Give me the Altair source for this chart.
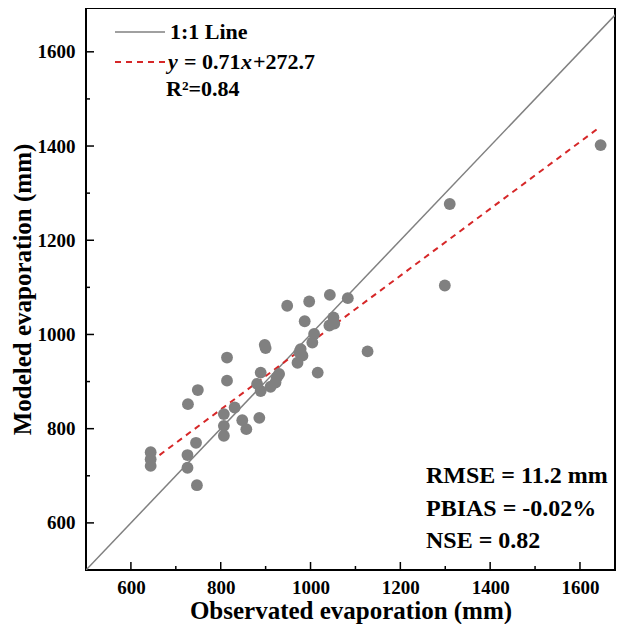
import altair as alt
import pandas as pd

# ---- data ----
observed = [644, 644, 644,
            727, 749, 745, 726, 726, 747,
            814, 814, 831, 807, 807, 807, 848, 857,
            898, 900,
            889, 881, 889, 886,
            911, 925, 922, 930,
            948, 997, 1043, 1083,
            987, 1051, 1042, 1053,
            1008, 1004, 978, 975, 982, 971, 1016,
            1127, 1299, 1310, 1646]
modeled = [750, 735, 721,
           852, 882, 770, 744, 717, 680,
           951, 902, 845, 831, 806, 785, 818, 799,
           978, 971,
           919, 895, 880, 823,
           889, 909, 898, 916,
           1061, 1070, 1084, 1077,
           1028, 1036, 1019, 1023,
           1001, 983, 969, 962, 955, 940, 919,
           964, 1104, 1277, 1402]

major_ticks = [600, 800, 1000, 1200, 1400, 1600]
minor_ticks = [700, 900, 1100, 1300, 1500]
one_to_one = [500, 1700]
fit_slope = 0.71
fit_intercept = 272.7
fit_range = [644, 1640]

legend_labels = ["1:1 Line", "R\u00b2=0.84"]
eq_parts = ["y", "= 0.71", "x", "+272.7"]
stats_text = ["RMSE = 11.2 mm", "PBIAS = -0.02%", "NSE = 0.82"]

W, H = 529, 562
FONT = "Liberation Serif"
GRAY = "#808080"
RED = "#d62728"

xs = alt.Scale(domain=[500, 1678], nice=False, zero=False)
ys = alt.Scale(domain=[500, 1693], nice=False, zero=False)

pts_df = pd.DataFrame({"obs": observed, "mod": modeled})

points = alt.Chart(pts_df).mark_circle(size=140, color=GRAY, opacity=1).encode(
    x=alt.X("obs:Q", scale=xs,
            axis=alt.Axis(title="Observated evaporation (mm)", values=major_ticks, format="d",
                          labelPadding=8, titlePadding=1)),
    y=alt.Y("mod:Q", scale=ys,
            axis=alt.Axis(title="Modeled evaporation (mm)", values=major_ticks, format="d",
                          labelPadding=11, titlePadding=2)),
)

line11 = alt.Chart(pd.DataFrame({"v": one_to_one})).mark_line(
    color=GRAY, strokeWidth=1.5, clip=True
).encode(x=alt.X("v:Q", scale=xs), y=alt.Y("v:Q", scale=ys))

fit = alt.Chart(pd.DataFrame({"fx": fit_range})).transform_calculate(
    fy=f"{fit_slope}*datum.fx+{fit_intercept}"
).mark_line(color=RED, strokeWidth=2, strokeDash=[6, 5], clip=True).encode(
    x=alt.X("fx:Q", scale=xs), y=alt.Y("fy:Q", scale=ys)
)

# inward ticks
xmaj = alt.Chart(pd.DataFrame({"t": major_ticks})).mark_rule(color="black", strokeWidth=1.5).encode(
    x=alt.X("t:Q", scale=xs), y=alt.value(H), y2=alt.value(H - 8))
xmin = alt.Chart(pd.DataFrame({"t": minor_ticks})).mark_rule(color="black", strokeWidth=1.5).encode(
    x=alt.X("t:Q", scale=xs), y=alt.value(H), y2=alt.value(H - 4))
ymaj = alt.Chart(pd.DataFrame({"t": major_ticks})).mark_rule(color="black", strokeWidth=1.5).encode(
    y=alt.Y("t:Q", scale=ys), x=alt.value(0), x2=alt.value(8))
ymin = alt.Chart(pd.DataFrame({"t": minor_ticks})).mark_rule(color="black", strokeWidth=1.5).encode(
    y=alt.Y("t:Q", scale=ys), x=alt.value(0), x2=alt.value(4))

# legend
one = pd.DataFrame({"k": [0]})
leg_gray = alt.Chart(one).mark_rule(color=GRAY, strokeWidth=1.5).encode(
    x=alt.value(29), x2=alt.value(79), y=alt.value(24))
leg_red = alt.Chart(one).mark_rule(color=RED, strokeWidth=2, strokeDash=[6, 5]).encode(
    x=alt.value(29), x2=alt.value(79), y=alt.value(54))

def txt(s, x, y, size=22, style="normal"):
    return alt.Chart(pd.DataFrame({"s": [s]})).mark_text(
        font=FONT, fontSize=size, fontWeight="bold", fontStyle=style,
        align="left", baseline="middle", color="black"
    ).encode(x=alt.value(x), y=alt.value(y), text="s:N")

leg_texts = [
    txt(legend_labels[0], 84, 24),
    txt(eq_parts[0], 82, 54, style="italic"),
    txt(eq_parts[1], 98, 54),
    txt(eq_parts[2], 155, 54, style="italic"),
    txt(eq_parts[3], 167, 54),
    txt(legend_labels[1], 80, 81),
]
stat_texts = [txt(s, 340, y, size=24) for s, y in zip(stats_text, [468, 501, 533])]

chart = alt.layer(
    line11, fit, points, xmaj, xmin, ymaj, ymin, leg_gray, leg_red, *leg_texts, *stat_texts
).properties(
    width=W, height=H,
    padding={"left": 78, "top": 0, "right": 1, "bottom": 54},
    autosize=alt.AutoSizeParams(type="none"),
).configure_view(
    stroke="black", strokeWidth=2
).configure_axis(
    grid=False, domain=False, ticks=False,
    labelFont=FONT, labelFontSize=19, labelFontWeight="bold", labelColor="black",
    titleFont=FONT, titleFontSize=25, titleFontWeight="bold", titleColor="black",
)

chart.save("out.html", embed_options={"renderer": "svg", "actions": False})
